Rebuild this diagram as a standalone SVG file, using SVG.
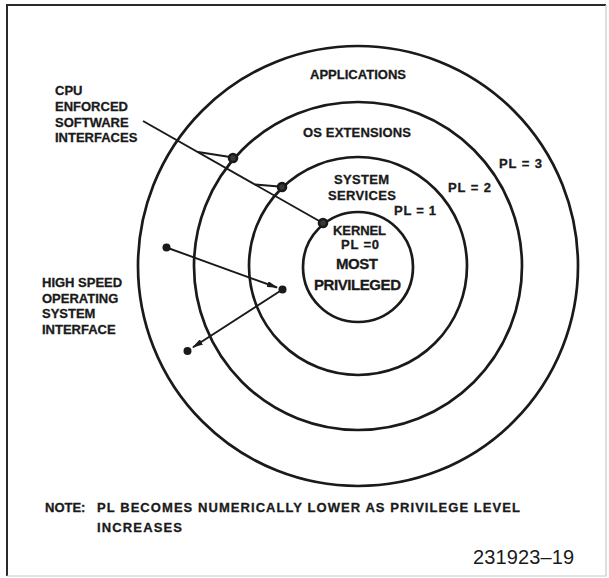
<svg xmlns="http://www.w3.org/2000/svg" width="609" height="578" viewBox="0 0 609 578">
<defs>
<style>
.ring{fill:none;stroke:#1a1a1a;stroke-width:2.7}
.lbl{font-family:"Liberation Sans",Arial,Helvetica,sans-serif;font-weight:bold;font-size:13px;fill:#1a1a1a;stroke:#1a1a1a;stroke-width:0.3}
.big{font-size:15px}
.num{font-family:"Liberation Sans",Arial,Helvetica,sans-serif;font-weight:normal;font-size:20px;fill:#1a1a1a}
.ln{fill:none;stroke:#1a1a1a;stroke-width:1.9}
.port{fill:#3a3a3a;stroke:#1a1a1a;stroke-width:2.6}
.dot{fill:#1a1a1a}
</style>
<marker id="arr" markerWidth="11" markerHeight="6" refX="10" refY="3" orient="auto" markerUnits="userSpaceOnUse">
<path d="M0,0 L11,3 L0,6 z" fill="#1a1a1a"/>
</marker>
</defs>
<rect width="609" height="578" fill="#ffffff"/>
<g id="frame">
<path d="M606,5 L7,5 L7,576" fill="none" stroke="#2a2a2a" stroke-width="2"/>
<path d="M606,5 L606,576 L7,576" fill="none" stroke="#c8c8c8" stroke-width="1.2"/>
</g>
<g id="ring-applications">
<circle class="ring" cx="358" cy="266" r="220"/>
<text class="lbl" x="310" y="79" font-size="12.5" textLength="96">APPLICATIONS</text>
<text class="lbl" x="499" y="168" textLength="43">PL = 3</text>
</g>
<g id="ring-os-extensions">
<circle class="ring" cx="358" cy="266" r="164"/>
<text class="lbl" x="303" y="137" font-size="12.5" textLength="108">OS EXTENSIONS</text>
<text class="lbl" x="448" y="192" textLength="43">PL = 2</text>
</g>
<g id="ring-system-services">
<circle class="ring" cx="358" cy="266" r="109"/>
<text class="lbl" x="334" y="184" textLength="55">SYSTEM</text>
<text class="lbl" x="328" y="200" textLength="68">SERVICES</text>
<text class="lbl" x="394" y="215" textLength="42">PL = 1</text>
</g>
<g id="ring-kernel">
<circle class="ring" cx="358" cy="267" r="55"/>
<text class="lbl" x="333" y="235" textLength="53">KERNEL</text>
<text class="lbl" x="341" y="249" textLength="38">PL =0</text>
<text class="lbl big" x="336" y="269" textLength="42">MOST</text>
<text class="lbl big" x="314" y="290" textLength="87">PRIVILEGED</text>
</g>
<g id="label-cpu-interfaces">
<text class="lbl" x="55" y="95">CPU</text>
<text class="lbl" x="55" y="111">ENFORCED</text>
<text class="lbl" x="55" y="127">SOFTWARE</text>
<text class="lbl" x="55" y="142">INTERFACES</text>
</g>
<g id="label-high-speed">
<text class="lbl" x="42" y="287">HIGH SPEED</text>
<text class="lbl" x="42" y="303">OPERATING</text>
<text class="lbl" x="42" y="318">SYSTEM</text>
<text class="lbl" x="42" y="334">INTERFACE</text>
</g>
<g id="connectors">
<line class="ln" x1="143" y1="121" x2="321" y2="222"/>
<line class="ln" x1="198" y1="152" x2="230" y2="157"/>
<line class="ln" x1="255" y1="184.5" x2="279" y2="186.5"/>
<circle class="port" cx="233" cy="158" r="4"/>
<circle class="port" cx="282" cy="187" r="4"/>
<circle class="port" cx="323" cy="223" r="4"/>
<line class="ln" x1="166.5" y1="247.5" x2="277" y2="287.5" marker-end="url(#arr)"/>
<line class="ln" x1="282.5" y1="289.5" x2="193" y2="347.3" marker-end="url(#arr)"/>
<circle class="dot" cx="166.5" cy="247.5" r="4"/>
<circle class="dot" cx="282.5" cy="289.5" r="4"/>
<circle class="dot" cx="187.5" cy="351" r="4"/>
</g>
<g id="note">
<text class="lbl" x="45" y="512" font-size="14.5">NOTE:</text>
<text class="lbl" x="97" y="512" font-size="14.5" textLength="423">PL BECOMES NUMERICALLY LOWER AS PRIVILEGE LEVEL</text>
<text class="lbl" x="97" y="532" font-size="14.5" textLength="85">INCREASES</text>
<text class="num" x="473" y="564" textLength="101">231923–19</text>
</g>
</svg>
